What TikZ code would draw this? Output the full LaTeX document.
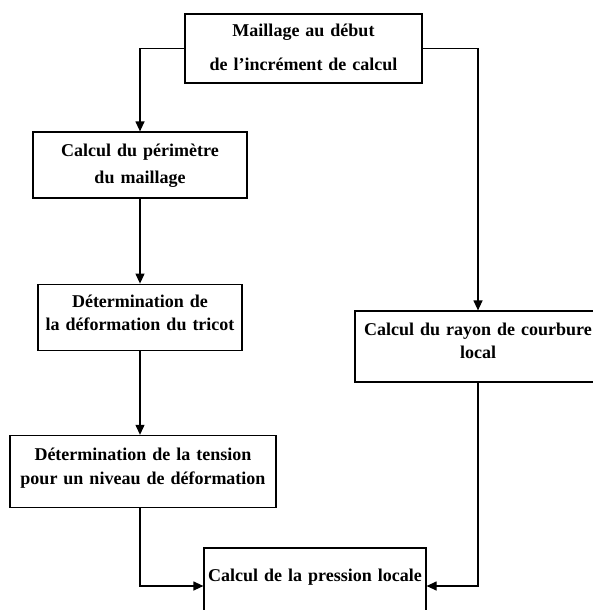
\documentclass[tikz,border=0pt]{standalone}
\usepackage{fontspec}
\setmainfont{Liberation Serif}
\usepackage{tikz}
\usetikzlibrary{positioning,arrows.meta}

\begin{document}
\begin{tikzpicture}[
    x=1pt, y=1pt,
    line width=1.2pt,
    bloc/.style={rectangle, draw=black, line width=1.2pt, inner xsep=0pt, inner ysep=0pt, align=center, text height=13pt, font=\fontsize{18}{23}\selectfont\bfseries},
    fleche/.style={->, >={Triangle[length=10pt, width=9pt]}}
]
  \useasboundingbox (0,0) rectangle (593,-610);

  \node[bloc, text width=237pt, minimum height=69pt, text depth=36pt] (maillage) at (303.5,-48.5)
    {Maillage au début\\[11pt]de l’incrément de calcul};
  \node[bloc, text width=214pt, minimum height=66pt, text depth=29.6pt] (perim) at (140,-165)
    {Calcul du périmètre\\[3.6pt]du maillage};
  \node[bloc, text width=204pt, minimum height=66pt, text depth=31.6pt] (deform) [below=85pt of perim]
    {Détermination de\\la déformation du tricot};
  \node[bloc, text width=266pt, minimum height=72pt, text depth=35.6pt] (tension) [below=84pt of deform, xshift=3pt]
    {Détermination de la tension\\[1pt]pour un niveau de déformation};
  \node[bloc, text width=246pt, minimum height=71pt, text depth=36pt] (rayon) at (478,-346.5)
    {Calcul du rayon de courbure\\local};
  \node[bloc, text width=222pt, minimum height=76pt, text depth=23pt] (pression) at (315,-586)
    {Calcul de la pression locale};

  \draw[fleche] (maillage.west) -| (perim.north);
  \draw[fleche] (perim) -- (deform);
  \draw[fleche] (deform.south) -- (deform.south |- tension.north);
  \draw[fleche] (tension.south -| deform.south) |- (pression.west);
  \draw[fleche] (maillage.east) -| (rayon.north);
  \draw[fleche] (rayon.south) |- (pression.east);
\end{tikzpicture}
\end{document}
